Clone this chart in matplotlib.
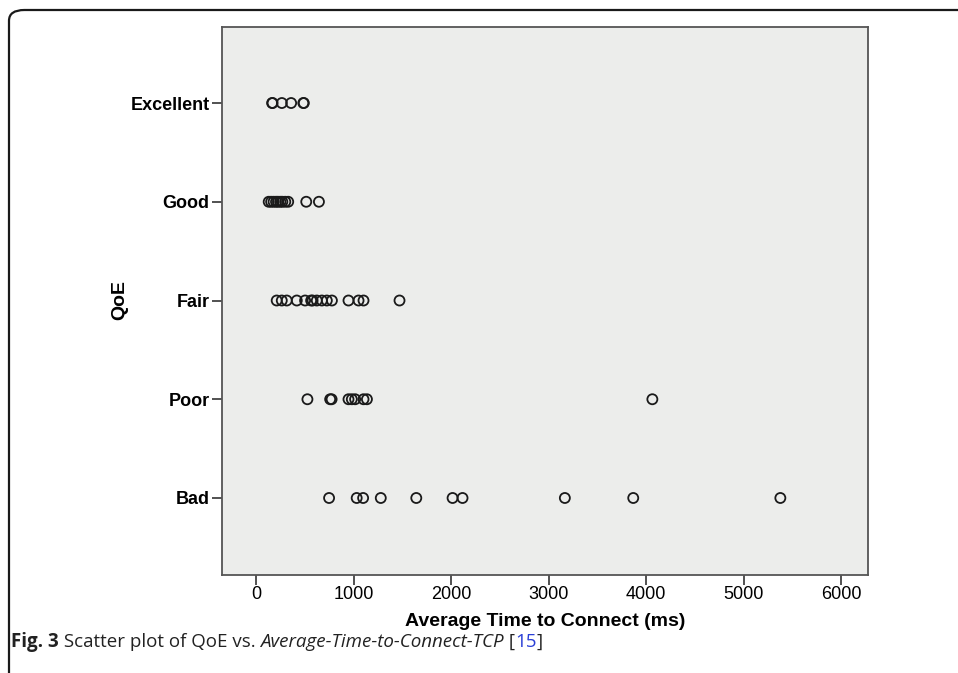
import matplotlib
matplotlib.use("Agg")
import matplotlib.pyplot as plt
from matplotlib.patches import FancyBboxPatch
from matplotlib import font_manager

# QoE categories, bottom to top
categories = ["Bad", "Poor", "Fair", "Good", "Excellent"]

# average time to connect (ms) per QoE level
excellent = [165, 170, 265, 360, 485, 490]
good = [130, 155, 180, 205, 225, 250, 270, 300, 330, 515, 645]
fair = [212, 264, 315, 418, 503, 565, 580, 623, 675, 726, 778, 948, 1051, 1102, 1471]
poor = [527, 760, 775, 948, 982, 1016, 1102, 1137, 4063]
bad = [749, 1032, 1098, 1279, 1643, 2015, 2117, 3166, 3867, 5375]

series = [bad, poor, fair, good, excellent]
xticks = [0, 1000, 2000, 3000, 4000, 5000, 6000]

names = {f.name for f in font_manager.fontManager.ttflist}
narrow = "Liberation Sans Narrow" if "Liberation Sans Narrow" in names else "Liberation Sans"

plt.rcParams["font.family"] = ["Liberation Sans", "DejaVu Sans"]

fig = plt.figure(figsize=(9.58, 6.73), dpi=100)
ax = fig.add_axes([0.2317, 0.1456, 0.6743, 0.8143])
ax.set_facecolor("#ecedeb")

for i, vals in enumerate(series):
    ax.scatter(vals, [i + 1] * len(vals), s=52, facecolors="none",
               edgecolors="#1a1a1a", linewidths=1.3, zorder=3)

ax.set_xlim(-349, 6273)
ax.set_ylim(0.22, 5.77)
ax.set_yticks(range(1, 6))
ax.set_yticklabels(categories, fontsize=13, fontweight="bold")
ax.set_xticks(xticks)
ax.set_xticklabels([str(v) for v in xticks], fontsize=13, family=narrow)
ax.tick_params(axis="both", direction="out", length=7, width=1.2, color="#333333")
ax.tick_params(axis="y", pad=2)
ax.tick_params(axis="x", pad=1)
for sp in ax.spines.values():
    sp.set_color("#555555")
    sp.set_linewidth(1.3)

ax.set_xlabel("Average Time to Connect (ms)", fontsize=14, fontweight="bold", labelpad=7)
fig.text(120 / 958, 1 - 300 / 673, "QoE", rotation=90, fontsize=14,
         fontweight="bold", ha="center", va="center")

# page frame with rounded top-left corner
frame = FancyBboxPatch((9 / 958, -0.1), 1.2, 1 - 10 / 673 + 0.1,
                       boxstyle="round,pad=0,rounding_size=0.016",
                       transform=fig.transFigure, fill=False,
                       edgecolor="#1a1a1a", linewidth=1.6, clip_on=False)
fig.patches.append(frame)

# caption, built from pieces
renderer = fig.canvas.get_renderer()
pieces = [("Fig. 3", "bold", "normal", "#222222"),
          (" Scatter plot of QoE vs. ", "normal", "normal", "#222222"),
          ("Average-Time-to-Connect-TCP", "normal", "italic", "#222222"),
          (" [", "normal", "normal", "#222222"),
          ("15", "normal", "normal", "#2a3fd6"),
          ("]", "normal", "normal", "#222222")]
x = 11
for txt, w, st, col in pieces:
    t = fig.text(x / 958, 1 - 642 / 673, txt, fontsize=13.5, fontweight=w,
                 fontstyle=st, color=col, family=["Open Sans", "DejaVu Sans"],
                 va="center", ha="left")
    bb = t.get_window_extent(renderer=renderer)
    x += bb.width

fig.savefig("out.png", dpi=100)
